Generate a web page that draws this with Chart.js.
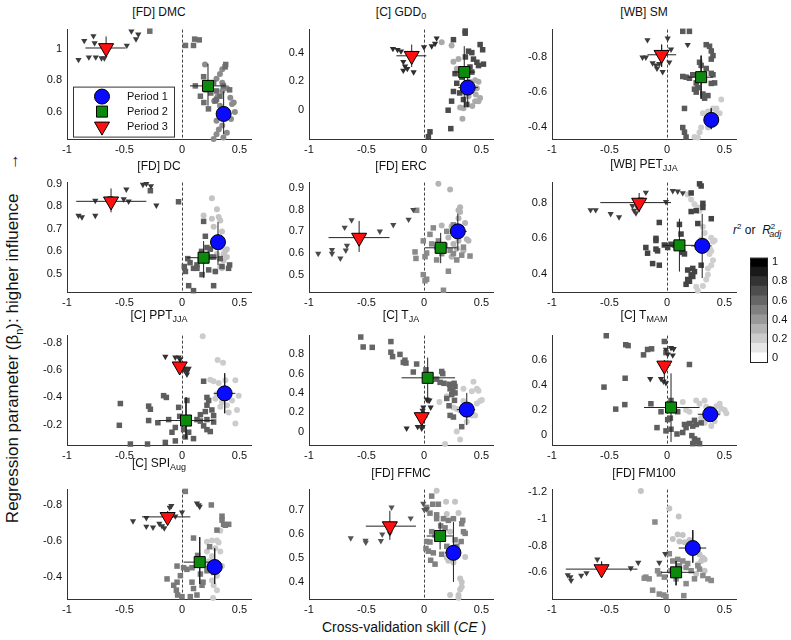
<!DOCTYPE html>
<html>
<head>
<meta charset="utf-8">
<script src="https://cdn.jsdelivr.net/npm/chart.js@4.4.0/dist/chart.umd.min.js"></script>
<style>
body { margin: 0; background: #fff; width: 791px; height: 640px; position: relative; overflow: hidden;
       font-family: "Liberation Sans", Arial, sans-serif; color: #111; }
canvas { position: absolute; }
.ttl { position: absolute; width: 184px; text-align: center; font-size: 12px; line-height: 14px; white-space: nowrap; }
.ttl sub { font-size: 9px; line-height: 0; }
#ylab { position: absolute; left: 14px; top: 338px; transform: translate(-50%, -50%) rotate(-90deg);
        white-space: nowrap; font-size: 17px; }
#ylab sub { font-size: 11px; }
#xlab { position: absolute; left: 404px; top: 627px; transform: translate(-50%, -50%); white-space: nowrap; font-size: 14px; }
#cblab { position: absolute; left: 733px; top: 222px; font-size: 12px; white-space: nowrap; }
#cblab sub { font-size: 9px; }
</style>
</head>
<body>
<div id="ylab">Regression parameter (β<sub>n</sub>): higher influence &nbsp;&nbsp;&nbsp; →</div>
<div id="xlab">Cross-validation skill (<i>CE</i> )</div>
<div id="cblab"><i>r</i><sup style="font-size:8px">2</sup> or &nbsp;<i>R</i><sup style="font-size:8px">2</sup><sub style="margin-left:-6px"><i>adj</i></sub></div>
<script>
// ---- data ----
const panelTitles = ["[FD] DMC", "[C] GDD<sub>0</sub>", "[WB] SM",
  "[FD] DC", "[FD] ERC", "[WB] PET<sub>JJA</sub>",
  "[C] PPT<sub>JJA</sub>", "[C] T<sub>JA</sub>", "[C] T<sub>MAM</sub>",
  "[C] SPI<sub>Aug</sub>", "[FD] FFMC", "[FD] FM100"];
const xTicks = [-1, -0.5, 0, 0.5];
const yTicks = [[0.6, 0.8, 1], [0, 0.2, 0.4], [-0.8, -0.6, -0.4],
  [0.5, 0.6, 0.7, 0.8, 0.9], [0.5, 0.6, 0.7, 0.8, 0.9], [0.4, 0.6, 0.8],
  [-0.8, -0.6, -0.4, -0.2], [0, 0.2, 0.4, 0.6, 0.8], [0, 0.2, 0.4, 0.6],
  [-0.8, -0.6, -0.4], [0.4, 0.5, 0.6, 0.7], [-1.2, -1, -0.8, -0.6]];
const yMin = [0.43, -0.2, -0.96, 0.42, 0.42, 0.30, -0.855, -0.14, -0.08, -0.885, 0.33, -1.22];
const yMax = [1.12, 0.56, -0.33, 0.905, 0.925, 0.912, -0.05, 0.995, 0.795, -0.28, 0.785, -0.40];
const yRev = [false, false, true, false, false, false, true, false, false, true, false, true];
const periodNames = ["Period 1", "Period 2", "Period 3"];
const cbTicks = [0, 0.2, 0.4, 0.6, 0.8, 1];
const cbLevels = [0, 0.1, 0.2, 0.3, 0.4, 0.5, 0.6, 0.7, 0.8, 0.9, 1];

// per panel: P1 = circles, P2 = squares, P3 = triangles, mean = [x,y] per period,
// err = [xlo, xhi, ylo, yhi] per period
const dmcP1 = [[0.20,0.90],[0.35,0.87],[0.33,0.84],[0.35,0.785],[0.39,0.75],[0.35,0.733],[0.30,0.81],[0.45,0.66],[0.435,0.65],[0.33,0.64],[0.377,0.615],[0.39,0.58],[0.46,0.60],[0.426,0.556],[0.30,0.545],[0.35,0.515],[0.32,0.49],[0.30,0.46],[0.39,0.47],[0.275,0.43],[0.36,0.44],[0.31,0.70],[0.28,0.67],[0.42,0.69],[0.33,0.58]];
const dmcP2 = [[-0.28,1.11],[0.03,1.02],[0.10,1.02],[0.11,1.06],[0.15,1.055],[0.38,0.90],[0.375,0.885],[0.116,0.765],[0.188,0.823],[0.20,0.785],[0.275,0.785],[0.30,0.733],[0.36,0.765],[0.414,0.74],[0.33,0.70],[0.30,0.68],[0.19,0.66],[0.23,0.62],[0.29,0.67],[0.16,0.70],[0.25,0.72],[0.21,0.74]];
const dmcP3 = [[-0.90,0.93],[-0.85,1.05],[-0.77,1.08],[-0.76,1.035],[-0.81,0.946],[-0.75,0.946],[-0.70,0.94],[-0.675,0.94],[-0.48,1.02],[-0.44,1.11],[-0.38,1.09],[-0.40,1.06]];
const dmcMean = [[0.362,0.588],[0.226,0.765],[-0.66,1.004]];
const dmcErr = [[0.30,0.42,0.46,0.73],[0.07,0.38,0.64,0.905],[-0.84,-0.49,0.952,1.077]];

const gddP1 = [[0.154,0.472],[0.24,0.45],[0.256,0.337],[0.30,0.355],[0.285,0.288],[0.343,0.13],[0.40,0.198],[0.445,0.209],[0.474,0.198],[0.46,0.153],[0.445,0.063],[0.474,0.063],[0.416,0.164],[0.387,0.097],[0.343,0.013],[0.314,0.018],[0.488,0.085],[0.334,-0.06],[0.42,0.03],[0.45,0.11]];
const gddP2 = [[0.256,0.49],[0.358,0.55],[0.358,0.535],[0.387,0.41],[0.416,0.40],[0.488,0.456],[0.51,0.42],[0.43,0.355],[0.46,0.333],[0.474,0.31],[0.517,0.32],[0.416,0.265],[0.33,0.23],[0.27,0.254],[0.256,0.13],[0.285,0.187],[0.24,0.063],[0.21,0.0],[0.343,0.074],[0.372,0.04],[0.052,-0.15],[0.038,-0.184],[0.233,-0.128],[0.40,0.30],[0.36,0.37],[0.31,0.12]];
const gddP3 = [[-0.27,0.427],[-0.23,0.42],[-0.20,0.41],[-0.18,0.337],[-0.165,0.305],[-0.18,0.276],[-0.145,0.288],[-0.09,0.265],[0.0,0.438],[0.067,0.445],[0.096,0.463],[0.11,0.50]];
const gddMean = [[0.38,0.157],[0.35,0.265],[-0.107,0.378]];
const gddErr = [[0.30,0.47,0.02,0.29],[0.256,0.445,0.02,0.445],[-0.24,0.02,0.30,0.456]];

const smP1 = [[0.472,-0.558],[0.40,-0.506],[0.43,-0.479],[0.458,-0.479],[0.356,-0.488],[0.297,-0.396],[0.283,-0.369],[0.239,-0.341],[0.268,-0.338],[0.356,-0.396],[0.43,-0.506],[0.312,-0.479]];
const smP2 = [[0.137,-0.95],[0.195,-0.95],[0.341,-0.873],[0.37,-0.864],[0.385,-0.837],[0.40,-0.81],[0.385,-0.79],[0.283,-0.772],[0.297,-0.754],[0.341,-0.736],[0.385,-0.708],[0.40,-0.70],[0.414,-0.653],[0.137,-0.69],[0.166,-0.686],[0.195,-0.68],[0.224,-0.70],[0.254,-0.653],[0.268,-0.626],[0.239,-0.617],[0.254,-0.60],[0.312,-0.589],[0.356,-0.58],[0.327,-0.565],[0.152,-0.506],[0.137,-0.396],[0.152,-0.369],[0.166,-0.341],[0.385,-0.65]];
const smP3 = [[-0.17,-0.90],[0.006,-0.91],[-0.213,-0.80],[-0.184,-0.80],[-0.125,-0.767],[-0.096,-0.754],[-0.067,-0.763],[-0.087,-0.736],[-0.038,-0.717],[0.02,-0.772],[0.035,-0.846],[0.18,-0.873]];
const smMean = [[0.385,-0.44],[0.297,-0.686],[-0.047,-0.815]];
const smErr = [[0.33,0.44,-0.506,-0.387],[0.18,0.40,-0.81,-0.561],[-0.17,0.08,-0.873,-0.745]];

const dcP1 = [[0.26,0.836],[0.188,0.759],[0.26,0.745],[0.304,0.787],[0.319,0.752],[0.333,0.737],[0.275,0.709],[0.348,0.688],[0.377,0.603],[0.39,0.575],[0.362,0.56],[0.348,0.525],[0.333,0.533],[0.29,0.511],[0.304,0.589],[0.333,0.617],[0.362,0.589],[0.39,0.61],[0.246,0.61]];
const dcP2 = [[-0.275,0.869],[-0.03,0.82],[0.02,0.533],[0.03,0.511],[0.058,0.448],[0.10,0.426],[0.05,0.568],[0.10,0.525],[0.13,0.54],[0.16,0.564],[0.188,0.733],[0.203,0.667],[0.217,0.617],[0.246,0.575],[0.29,0.511],[0.275,0.575],[0.333,0.568],[0.348,0.533],[0.414,0.54],[0.405,0.525],[0.174,0.497],[0.275,0.448],[0.13,0.525],[0.232,0.518],[0.246,0.61],[0.07,0.55],[0.17,0.60]];
const dcP3 = [[-0.90,0.759],[-0.87,0.752],[-0.754,0.759],[-0.754,0.825],[-0.623,0.836],[-0.507,0.832],[-0.484,0.875],[-0.464,0.822],[-0.34,0.896],[-0.31,0.90],[-0.27,0.89],[-0.223,0.804]];
const dcMean = [[0.313,0.641],[0.188,0.572],[-0.617,0.822]];
const dcErr = [[0.27,0.36,0.54,0.73],[0.043,0.304,0.483,0.646],[-0.92,-0.31,0.773,0.879]];

const ercP1 = [[0.125,0.92],[0.227,0.893],[0.314,0.811],[0.314,0.789],[0.30,0.76],[0.24,0.723],[0.285,0.708],[0.328,0.70],[0.357,0.738],[0.372,0.664],[0.387,0.656],[0.30,0.656],[0.256,0.642],[0.212,0.671],[0.169,0.634],[0.343,0.612],[0.24,0.583],[0.285,0.62],[0.30,0.797],[0.154,0.727]];
const ercP2 = [[-0.064,0.797],[0.009,0.583],[0.023,0.60],[0.081,0.716],[0.067,0.642],[0.11,0.627],[0.125,0.656],[0.125,0.612],[0.154,0.597],[0.198,0.70],[0.256,0.73],[0.227,0.612],[0.256,0.597],[0.285,0.568],[0.328,0.59],[0.343,0.627],[0.40,0.586],[-0.006,0.50],[0.023,0.479],[0.009,0.472],[0.169,0.428],[0.212,0.516],[-0.078,0.605],[-0.07,0.575],[-0.006,0.656],[0.052,0.686],[0.11,0.568],[0.183,0.634]];
const ercP3 = [[-0.92,0.597],[-0.80,0.615],[-0.80,0.597],[-0.727,0.575],[-0.68,0.612],[-0.67,0.634],[-0.69,0.718],[-0.63,0.752],[-0.384,0.70],[-0.267,0.73],[-0.134,0.755],[-0.093,0.80]];
const ercMean = [[0.294,0.70],[0.145,0.624],[-0.564,0.671]];
const ercErr = [[0.227,0.372,0.612,0.782],[0.009,0.285,0.553,0.693],[-0.83,-0.30,0.605,0.748]];

const petP1 = [[0.18,0.845],[0.21,0.818],[0.239,0.791],[0.268,0.773],[0.283,0.755],[0.312,0.665],[0.327,0.63],[0.297,0.594],[0.385,0.603],[0.40,0.581],[0.414,0.588],[0.385,0.53],[0.37,0.513],[0.40,0.477],[0.385,0.45],[0.356,0.432],[0.341,0.37],[0.312,0.334],[0.268,0.307],[0.254,0.33],[0.356,0.396],[0.327,0.585],[0.37,0.549]];
const petP2 = [[0.283,0.905],[0.297,0.893],[0.21,0.854],[0.312,0.796],[0.312,0.773],[0.254,0.755],[0.21,0.75],[0.385,0.71],[0.268,0.683],[0.108,0.678],[-0.067,0.689],[-0.096,0.60],[-0.096,0.588],[-0.184,0.549],[-0.169,0.517],[-0.096,0.54],[-0.082,0.53],[-0.125,0.459],[-0.067,0.45],[0.122,0.624],[0.137,0.522],[0.152,0.513],[0.297,0.45],[0.18,0.423],[0.239,0.414],[0.21,0.396],[0.224,0.387],[0.18,0.37],[0.166,0.343],[0.195,0.36],[-0.023,0.563],[0.035,0.567],[0.064,0.563],[0.006,0.549],[0.224,0.432]];
const petP3 = [[-0.665,0.759],[-0.62,0.759],[-0.49,0.737],[-0.417,0.719],[-0.30,0.782],[-0.27,0.741],[-0.257,0.773],[-0.184,0.857],[-0.009,0.804],[0.05,0.866],[0.093,0.863],[0.137,0.854],[-0.227,0.818],[-0.286,0.755]];
const petMean = [[0.306,0.558],[0.108,0.561],[-0.242,0.80]];
const petErr = [[0.21,0.385,0.378,0.737],[-0.038,0.312,0.414,0.71],[-0.58,0.035,0.746,0.854]];

const pptP1 = [[0.18,-0.85],[0.31,-0.676],[0.357,-0.655],[0.246,-0.53],[0.275,-0.519],[0.319,-0.507],[0.377,-0.526],[0.464,-0.526],[0.391,-0.448],[0.435,-0.378],[0.493,-0.413],[0.391,-0.343],[0.478,-0.308],[0.333,-0.331],[0.348,-0.366],[0.29,-0.39],[0.464,-0.209],[0.406,-0.289],[0.304,-0.425]];
const pptP2 = [[-0.536,-0.355],[-0.545,-0.195],[-0.449,-0.057],[-0.29,-0.336],[-0.275,-0.313],[-0.29,-0.23],[-0.30,-0.057],[-0.21,-0.214],[-0.16,-0.413],[-0.136,-0.40],[-0.145,-0.069],[-0.087,-0.144],[-0.058,-0.08],[-0.058,-0.179],[-0.029,-0.327],[-0.02,-0.261],[0.014,-0.163],[0.043,-0.378],[0.029,-0.109],[0.058,-0.144],[0.10,-0.097],[0.13,-0.237],[0.188,-0.519],[0.217,-0.40],[0.232,-0.378],[0.217,-0.343],[0.26,-0.308],[0.275,-0.266],[0.217,-0.237],[0.16,-0.226],[0.188,-0.191],[0.217,-0.163],[0.246,-0.149],[0.275,-0.219],[0.203,-0.296],[0.16,-0.273],[-0.116,-0.237]];
const pptP3 = [[-0.145,-0.70],[-0.058,-0.695],[-0.029,-0.695],[-0.014,-0.683],[0.029,-0.612],[0.043,-0.589],[0.043,-0.57],[0.02,-0.60],[0.058,-0.612]];
const pptMean = [[0.371,-0.43],[0.035,-0.23],[-0.02,-0.629]];
const pptErr = [[0.275,0.464,-0.577,-0.284],[-0.20,0.275,-0.40,-0.097],[-0.06,0.03,-0.68,-0.58]];

const tjaP1 = [[0.134,0.307],[0.198,0.367],[0.256,0.25],[0.285,0.233],[0.314,0.217],[0.343,0.443],[0.43,0.517],[0.46,0.443],[0.474,0.423],[0.488,0.317],[0.503,0.327],[0.46,0.29],[0.445,0.167],[0.416,0.167],[0.372,0.10],[0.285,0.0],[0.314,-0.083],[0.183,-0.13],[0.416,0.417],[0.343,0.317],[0.40,0.27]];
const tjaP2 = [[-0.55,0.98],[-0.529,0.877],[-0.45,0.873],[-0.288,0.933],[-0.288,0.823],[-0.273,0.777],[-0.209,0.80],[-0.166,0.74],[-0.157,0.71],[-0.064,0.70],[-0.093,0.617],[0.017,0.64],[0.009,0.577],[0.154,0.623],[0.163,0.60],[0.11,0.543],[0.174,0.50],[0.221,0.49],[0.227,0.443],[0.262,0.50],[0.27,0.467],[0.25,0.417],[0.27,0.40],[0.241,0.383],[0.198,0.343],[0.265,0.323],[0.218,0.267],[0.227,0.167],[0.256,0.15],[0.328,0.05],[0.14,0.51],[-0.18,0.717]];
const tjaP3 = [[-0.151,0.033],[-0.055,0.05],[-0.02,0.033],[-0.012,0.05],[0.023,0.333],[0.047,0.323],[0.058,0.25],[-0.006,0.25],[-0.012,0.217],[0.035,0.323]];
const tjaMean = [[0.372,0.227],[0.032,0.557],[-0.02,0.15]];
const tjaErr = [[0.285,0.445,0.067,0.40],[-0.195,0.27,0.317,0.767],[-0.06,0.03,0.10,0.20]];

const tmamP1 = [[0.137,0.263],[0.166,0.199],[0.195,0.186],[0.254,0.276],[0.283,0.25],[0.327,0.276],[0.341,0.225],[0.40,0.199],[0.443,0.174],[0.458,0.25],[0.472,0.212],[0.501,0.199],[0.516,0.174],[0.414,0.11],[0.385,0.071],[0.327,0.097],[0.297,0.135],[0.356,0.161],[0.43,0.23]];
const tmamP2 = [[-0.528,0.794],[-0.359,0.722],[-0.338,0.715],[-0.204,0.641],[-0.169,0.684],[-0.134,0.689],[-0.023,0.748],[-0.009,0.659],[0.195,0.564],[-0.548,0.383],[-0.446,0.207],[-0.364,0.454],[-0.367,0.243],[-0.14,0.25],[-0.052,0.186],[-0.087,0.059],[-0.009,0.033],[0.006,0.123],[0.029,0.135],[0.035,0.046],[0.087,0.008],[0.137,0.02],[0.152,0.084],[0.166,0.059],[0.195,0.092],[0.239,0.117],[0.224,0.071],[0.254,0.084],[0.216,-0.005],[0.239,-0.031],[0.254,-0.056],[0.268,-0.043],[0.283,-0.069],[0.224,-0.069],[0.297,0.097],[0.093,0.186],[0.035,0.276]];
const tmamP3 = [[-0.009,0.684],[0.035,0.697],[0.058,0.689],[0.05,0.638],[0.006,0.646],[-0.146,0.449],[-0.052,0.449],[-0.03,0.429],[-0.009,0.416]];
const tmamMean = [[0.376,0.166],[0.035,0.22],[-0.023,0.556]];
const tmamErr = [[0.268,0.458,0.13,0.20],[-0.20,0.283,-0.056,0.493],[-0.07,0.03,0.42,0.60]];

const spiP1 = [[0.333,-0.658],[0.217,-0.596],[0.261,-0.604],[0.304,-0.604],[0.319,-0.592],[0.29,-0.56],[0.333,-0.542],[0.261,-0.516],[0.232,-0.489],[0.275,-0.471],[0.348,-0.462],[0.304,-0.409],[0.261,-0.382],[0.275,-0.356],[0.304,-0.329],[0.27,-0.285],[0.203,-0.471],[0.217,-0.542]];
const spiP2 = [[0.029,-0.875],[0.255,-0.80],[0.10,-0.617],[0.136,-0.521],[0.348,-0.716],[0.348,-0.738],[0.362,-0.693],[0.377,-0.688],[0.406,-0.693],[0.304,-0.661],[0.24,-0.569],[-0.13,-0.391],[-0.072,-0.356],[-0.043,-0.373],[-0.049,-0.329],[-0.038,-0.302],[0.0,-0.293],[0.072,-0.293],[0.10,-0.338],[0.13,-0.302],[0.174,-0.356],[0.16,-0.418],[0.183,-0.373],[0.217,-0.436],[0.087,-0.373],[0.043,-0.444],[0.014,-0.453],[-0.043,-0.462],[-0.014,-0.409],[0.087,-0.453],[0.136,-0.498],[0.275,-0.427]];
const spiP3 = [[-0.426,-0.711],[-0.31,-0.729],[-0.31,-0.681],[-0.252,-0.676],[-0.197,-0.697],[-0.174,-0.684],[-0.154,-0.672],[-0.107,-0.786],[-0.093,-0.795],[-0.058,-0.738],[0.0,-0.759],[0.13,-0.809],[0.154,-0.791],[0.145,-0.80]];
const spiMean = [[0.284,-0.457],[0.154,-0.484],[-0.125,-0.734]];
const spiErr = [[0.203,0.348,-0.56,-0.364],[0.014,0.275,-0.622,-0.364],[-0.348,0.072,-0.764,-0.70]];

const ffP1 = [[0.11,0.78],[0.192,0.734],[0.27,0.734],[0.30,0.688],[0.198,0.684],[0.227,0.61],[0.212,0.489],[0.256,0.482],[0.198,0.502],[0.358,0.505],[0.314,0.415],[0.328,0.401],[0.328,0.381],[0.314,0.37],[0.30,0.347],[0.227,0.347],[0.30,0.335],[0.256,0.543]];
const ffP2 = [[0.067,0.758],[0.076,0.724],[0.125,0.724],[0.023,0.711],[0.052,0.687],[0.11,0.68],[0.11,0.664],[0.169,0.664],[0.212,0.657],[0.256,0.664],[0.337,0.657],[0.328,0.643],[0.145,0.634],[0.067,0.61],[0.023,0.569],[0.052,0.567],[0.017,0.54],[0.038,0.529],[0.081,0.522],[0.058,0.491],[0.096,0.475],[0.154,0.516],[0.198,0.549],[0.227,0.522],[0.285,0.549],[0.27,0.576],[0.323,0.569],[0.343,0.61],[0.358,0.603],[0.183,0.626],[0.096,0.596]];
const ffP3 = [[-0.637,0.583],[-0.509,0.573],[-0.506,0.565],[-0.375,0.572],[-0.363,0.599],[-0.282,0.711],[-0.116,0.666],[-0.006,0.727],[0.003,0.701],[0.023,0.704],[-0.297,0.603]];
const ffMean = [[0.256,0.522],[0.14,0.592],[-0.297,0.633]];
const ffErr = [[0.183,0.30,0.401,0.65],[0.023,0.256,0.536,0.65],[-0.506,-0.07,0.576,0.697]];

const fmP1 = [[-0.227,-1.21],[0.02,-1.079],[0.102,-1.018],[0.093,-0.884],[0.137,-0.879],[0.05,-0.85],[0.108,-0.831],[0.152,-0.826],[0.195,-0.843],[0.239,-0.794],[0.268,-0.758],[0.283,-0.734],[0.312,-0.709],[0.327,-0.697],[0.297,-0.685],[0.268,-0.661],[0.254,-0.588],[0.327,-0.612],[0.224,-0.811]];
const fmP2 = [[-0.105,-0.977],[0.02,-0.739],[0.05,-0.685],[0.093,-0.697],[0.137,-0.685],[0.108,-0.649],[0.166,-0.636],[0.18,-0.666],[0.268,-0.649],[0.283,-0.624],[0.312,-0.576],[0.356,-0.551],[0.385,-0.539],[0.239,-0.551],[0.166,-0.515],[0.146,-0.425],[-0.023,-0.564],[-0.082,-0.612],[-0.067,-0.588],[-0.125,-0.466],[-0.067,-0.437],[-0.029,-0.43],[-0.009,-0.418],[-0.184,-0.564],[-0.198,-0.556],[-0.155,-0.551],[0.035,-0.612],[0.079,-0.551],[0.21,-0.612]];
const fmP3 = [[-0.863,-0.58],[-0.834,-0.539],[-0.746,-0.576],[-0.70,-0.595],[-0.606,-0.697],[-0.315,-0.632],[-0.25,-0.673],[-0.067,-0.673],[-0.015,-0.738],[-0.84,-0.565]];
const fmMean = [[0.224,-0.782],[0.079,-0.60],[-0.569,-0.624]];
const fmErr = [[0.102,0.341,-0.916,-0.673],[-0.052,0.239,-0.685,-0.503],[-0.88,-0.257,-0.68,-0.58]];

// ---- styles / layout ----
const shades = [["#8c8c8c","#6e6e6e","#3c3c3c"],["#aaaaaa","#4a4a4a","#2e2e2e"],["#cccccc","#5a5a5a","#3c3c3c"],
  ["#c4c4c4","#5e5e5e","#3a3a3a"],["#b4b4b4","#8a8a8a","#4a4a4a"],["#cfcfcf","#444444","#404040"],
  ["#cccccc","#5e5e5e","#333333"],["#cccccc","#666666","#2e2e2e"],["#cccccc","#5e5e5e","#333333"],
  ["#cccccc","#7a7a7a","#3c3c3c"],["#c4c4c4","#808080","#555555"],["#c4c4c4","#8a8a8a","#404040"]];
const meanColors = ["#0a0aff", "#0b8a0b", "#ff1010"];
const cols = [67, 309, 552];
const rows = [26, 179, 332, 486];
const titleOffset = [21, 21, 21, 20, 20, 22, 24, 24, 24, 30, 20, 20];
const PW = 184, PH = 113, YW = 44, PADT = 8, XH = 24, PADR = 10;

const panels = [
  [dmcP1, dmcP2, dmcP3, dmcMean, dmcErr], [gddP1, gddP2, gddP3, gddMean, gddErr], [smP1, smP2, smP3, smMean, smErr],
  [dcP1, dcP2, dcP3, dcMean, dcErr], [ercP1, ercP2, ercP3, ercMean, ercErr], [petP1, petP2, petP3, petMean, petErr],
  [pptP1, pptP2, pptP3, pptMean, pptErr], [tjaP1, tjaP2, tjaP3, tjaMean, tjaErr], [tmamP1, tmamP2, tmamP3, tmamMean, tmamErr],
  [spiP1, spiP2, spiP3, spiMean, spiErr], [ffP1, ffP2, ffP3, ffMean, ffErr], [fmP1, fmP2, fmP3, fmMean, fmErr]];

Chart.defaults.font.family = '"Liberation Sans", Arial, sans-serif';
Chart.defaults.color = "#111";

const fmt = v => String(+(+v).toFixed(2));
const toXY = arr => arr.map(p => ({ x: p[0], y: p[1] }));

// vertical dashed line at CE = 0
const dashZero = {
  id: "dashZero",
  beforeDatasetsDraw(chart) {
    const { ctx, chartArea: a, scales } = chart;
    const px = Math.round(scales.x.getPixelForValue(0)) + 0.5;
    ctx.save();
    ctx.strokeStyle = "#444";
    ctx.lineWidth = 1;
    ctx.setLineDash([3, 2]);
    ctx.beginPath();
    ctx.moveTo(px, a.top);
    ctx.lineTo(px, a.bottom);
    ctx.stroke();
    ctx.restore();
  }
};

// legend box inside the first panel
const periodLegend = {
  id: "periodLegend",
  afterDraw(chart, args, opts) {
    if (!opts.show) return;
    const { ctx, chartArea: a } = chart;
    const L = a.left + 6, T = a.top + 57, W = 101, H = 50;
    ctx.save();
    ctx.fillStyle = "#fff";
    ctx.fillRect(L, T, W, H);
    ctx.strokeStyle = "#333";
    ctx.lineWidth = 1;
    ctx.strokeRect(L + 0.5, T + 0.5, W, H);
    const mx = L + 29;
    const ys = [T + 10, T + 25, T + 40];
    ctx.strokeStyle = "#000";
    // circle
    ctx.fillStyle = meanColors[0];
    ctx.beginPath(); ctx.arc(mx, ys[0], 7.5, 0, Math.PI * 2); ctx.fill(); ctx.stroke();
    // square
    ctx.fillStyle = meanColors[1];
    ctx.beginPath(); ctx.rect(mx - 5.5, ys[1] - 5.5, 11, 11); ctx.fill(); ctx.stroke();
    // down triangle
    ctx.fillStyle = meanColors[2];
    ctx.beginPath();
    ctx.moveTo(mx - 7.5, ys[2] - 4.5); ctx.lineTo(mx + 7.5, ys[2] - 4.5); ctx.lineTo(mx, ys[2] + 8.5);
    ctx.closePath(); ctx.fill(); ctx.stroke();
    ctx.fillStyle = "#111";
    ctx.font = '11px "Liberation Sans", Arial, sans-serif';
    ctx.textBaseline = "middle";
    periodNames.forEach((n, k) => ctx.fillText(n, L + 54, ys[k]));
    ctx.restore();
  }
};

function makePanel(i) {
  const c = i % 3, r = Math.floor(i / 3);
  const [p1, p2, p3, mean, err] = panels[i];
  const sh = shades[i];

  const ttl = document.createElement("div");
  ttl.className = "ttl";
  ttl.innerHTML = panelTitles[i];
  ttl.style.left = cols[c] + "px";
  ttl.style.top = (rows[r] - titleOffset[i]) + "px";
  document.body.appendChild(ttl);

  const cv = document.createElement("canvas");
  cv.width = YW + PW + PADR;
  cv.height = PADT + PH + XH;
  cv.style.left = (cols[c] - YW) + "px";
  cv.style.top = (rows[r] - PADT) + "px";
  document.body.appendChild(cv);

  const datasets = [];
  // period means on top
  const styles = [["circle", 7.5, 0], ["rect", 7.8, 0], ["triangle", 8.7, 180]];
  mean.forEach((m, k) => {
    datasets.push({
      data: [{ x: m[0], y: m[1] }], pointStyle: styles[k][0], pointRadius: styles[k][1],
      pointRotation: styles[k][2], backgroundColor: meanColors[k], borderColor: "#000",
      borderWidth: 1, order: 0, clip: false
    });
  });
  // error bars
  err.forEach((e, k) => {
    datasets.push({ data: [{ x: e[0], y: mean[k][1] }, { x: e[1], y: mean[k][1] }], showLine: true,
      borderColor: "#222", borderWidth: 1, pointRadius: 0, order: 1, clip: false });
    datasets.push({ data: [{ x: mean[k][0], y: e[2] }, { x: mean[k][0], y: e[3] }], showLine: true,
      borderColor: "#222", borderWidth: 1, pointRadius: 0, order: 1, clip: false });
  });
  // individual models
  datasets.push({ data: toXY(p3), pointStyle: "triangle", pointRotation: 180, pointRadius: 3.6,
    backgroundColor: sh[2], borderWidth: 0, order: 2, clip: false });
  datasets.push({ data: toXY(p2), pointStyle: "rect", pointRadius: 3.9,
    backgroundColor: sh[1], borderWidth: 0, order: 3, clip: false });
  datasets.push({ data: toXY(p1), pointStyle: "circle", pointRadius: 3,
    backgroundColor: sh[0], borderWidth: 0, order: 4, clip: false });

  new Chart(cv, {
    type: "scatter",
    data: { datasets },
    options: {
      responsive: false, animation: false, events: [],
      layout: { padding: { top: PADT, right: PADR, left: 0, bottom: 0 } },
      plugins: { legend: { display: false }, tooltip: { enabled: false }, periodLegend: { show: i === 0 } },
      scales: {
        x: {
          type: "linear", min: -1, max: 0.6,
          grid: { display: false, drawTicks: false },
          border: { display: true, color: "#333", width: 1 },
          ticks: { font: { size: 11 }, color: "#111", padding: 4, autoSkip: false, maxRotation: 0, callback: fmt },
          afterBuildTicks: s => { s.ticks = xTicks.map(v => ({ value: v })); },
          afterFit: s => { s.height = XH; }
        },
        y: {
          type: "linear", min: yMin[i], max: yMax[i], reverse: yRev[i],
          grid: { display: false, drawTicks: false },
          border: { display: true, color: "#333", width: 1 },
          ticks: { font: { size: 11 }, color: "#111", padding: 5, autoSkip: false, callback: fmt },
          afterBuildTicks: s => { s.ticks = yTicks[i].map(v => ({ value: v })); },
          afterFit: s => { s.width = YW; }
        }
      }
    },
    plugins: [dashZero, periodLegend]
  });
}

for (let i = 0; i < 12; i++) makePanel(i);

// colour bar for r^2 / R^2_adj
const cbFrame = {
  id: "cbFrame",
  afterDatasetsDraw(chart) {
    const { ctx, chartArea: a } = chart;
    ctx.save();
    ctx.strokeStyle = "#222";
    ctx.lineWidth = 1;
    ctx.strokeRect(Math.round(a.left) + 0.5, Math.round(a.top) + 0.5, Math.round(a.right - a.left) - 1, Math.round(a.bottom - a.top) - 1);
    ctx.restore();
  }
};
const cbCanvas = document.createElement("canvas");
cbCanvas.width = 44;
cbCanvas.height = 126;
cbCanvas.style.left = "750px";
cbCanvas.style.top = "247px";
document.body.appendChild(cbCanvas);
new Chart(cbCanvas, {
  type: "bar",
  data: {
    labels: [""],
    datasets: cbLevels.map(v => {
      const g = Math.round(255 * (1 - v));
      return { data: [[v - 0.05, v + 0.05]], backgroundColor: `rgb(${g},${g},${g})`, grouped: false,
        barPercentage: 1, categoryPercentage: 1, borderWidth: 0 };
    })
  },
  options: {
    responsive: false, animation: false, events: [],
    layout: { padding: { top: 6, bottom: 6, left: 0, right: 0 } },
    plugins: { legend: { display: false }, tooltip: { enabled: false } },
    scales: {
      x: { display: false },
      y: {
        position: "right", min: -0.05, max: 1.05,
        grid: { display: false, drawTicks: false }, border: { display: false },
        ticks: { font: { size: 11 }, color: "#111", padding: 4, autoSkip: false, callback: fmt },
        afterBuildTicks: s => { s.ticks = cbTicks.map(v => ({ value: v })); },
        afterFit: s => { s.width = 26; }
      }
    }
  },
  plugins: [cbFrame]
});
</script>
</body>
</html>
